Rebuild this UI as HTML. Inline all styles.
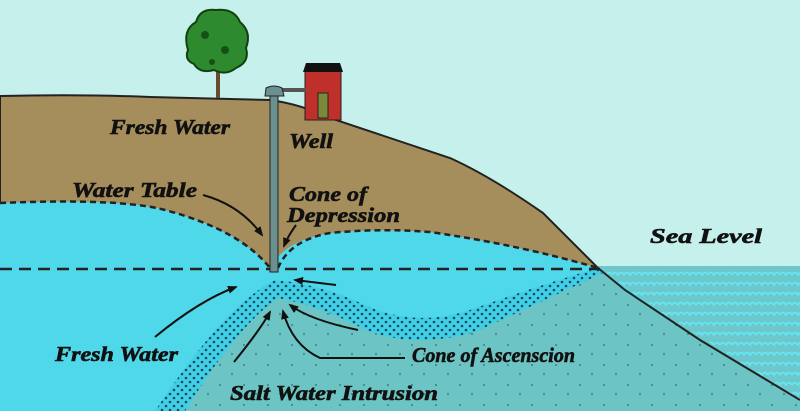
<!DOCTYPE html>
<html><head><meta charset="utf-8"><style>
html,body{margin:0;padding:0;background:#c6f0ec;}
svg{display:block}
text{font-family:"Liberation Serif",serif;font-weight:bold;font-style:italic;fill:#111;stroke:#111;stroke-width:0.6;font-size:21px;}
</style></head><body>
<svg width="800" height="411" viewBox="0 0 800 411" xmlns="http://www.w3.org/2000/svg">
<defs>
<pattern id="dots" width="8" height="8" patternUnits="userSpaceOnUse">
<rect width="8" height="8" fill="#3fd0e8"/>
<circle cx="2" cy="2" r="1.3" fill="#1a4a5a"/><circle cx="6" cy="6" r="1.3" fill="#1a4a5a"/>
</pattern>
<pattern id="sdots" width="24" height="20" patternUnits="userSpaceOnUse">
<rect width="24" height="20" fill="#6cc5c4"/>
<circle cx="4" cy="5" r="0.9" fill="#2a6a70"/><circle cx="16" cy="14" r="0.9" fill="#2a6a70"/>
</pattern>
<pattern id="waves" width="12" height="10" patternUnits="userSpaceOnUse">
<rect width="12" height="10" fill="#6cc8cc"/>
<path d="M0 5 Q3 0 6 5 Q9 0 12 5" fill="none" stroke="#62eaf6" stroke-width="1.6"/>
</pattern>
<marker id="ar" markerWidth="10" markerHeight="8" refX="8" refY="4" orient="auto" markerUnits="userSpaceOnUse"><path d="M0 0 L10 4 L0 8 Z" fill="#111"/></marker>
</defs>
<rect x="598" y="266" width="202" height="145" fill="url(#waves)"/>
<path d="M0 96 Q80 94 150 97 L270 100 Q300 104 330 118 L450 158 Q490 176 543 213 L598 268 L0 268 Z" fill="#a58d5c" stroke="#222" stroke-width="2"/>
<path d="M0 203 Q120 198 165 210 Q240 230 270 268 Q285 240 330 233 Q380 228 430 232 Q520 245 598 268 L800 411 L0 411 Z" fill="#4fd8ea"/>
<path d="M155 411 Q225 305 275 280 Q320 284 365 305 Q415 328 470 310 Q540 285 598 268 L625 290 L800 400 L800 411 Z" fill="url(#dots)"/>
<path d="M185 411 Q238 325 278 298 Q320 306 362 328 Q410 350 475 332 Q545 300 605 272 L625 290 L800 400 L800 411 Z" fill="url(#sdots)"/>
<path d="M598 268 L625 290 L700 340 L800 400" fill="none" stroke="#222" stroke-width="2"/>
<path d="M0 203 Q120 198 165 210 Q240 230 270 268 M278 268 Q290 240 330 233 Q380 228 430 232 Q520 245 598 268" fill="none" stroke="#222" stroke-width="2.5" stroke-dasharray="6,4"/>
<line x1="0" y1="269" x2="600" y2="269" stroke="#222" stroke-width="2.5" stroke-dasharray="12,7"/>
<rect x="216" y="60" width="4" height="38" fill="#6a4a2a"/>
<path d="M188 50 Q182 30 196 22 Q200 8 216 10 Q234 8 240 22 Q252 32 246 48 Q250 62 236 68 Q226 76 214 70 Q200 74 194 64 Q184 60 188 50 Z" fill="#2e8a2e" stroke="#134013" stroke-width="2"/>
<circle cx="205" cy="35" r="4" fill="#165016"/><circle cx="225" cy="50" r="4" fill="#165016"/><circle cx="212" cy="62" r="3" fill="#165016"/>
<rect x="305" y="70" width="36" height="50" fill="#c0302a" stroke="#222"/>
<path d="M303 72 L306 63 L340 63 L343 72 Z" fill="#111"/>
<rect x="318" y="93" width="10" height="25" fill="#7a8a3a" stroke="#222"/>
<rect x="280" y="88" width="26" height="4" fill="#555"/>
<rect x="270" y="92" width="8" height="180" fill="#6a9090" stroke="#222"/>
<path d="M265 96 L266 88 Q274 84 282 88 L284 96 Z" fill="#6a9090" stroke="#222"/>
<g fill="none" stroke="#111" stroke-width="2" marker-end="url(#ar)">
<path d="M203 195 Q240 205 262 235"/>
<path d="M296 225 Q288 236 284 246"/>
<path d="M336 285 L295 280"/>
<path d="M155 337 Q200 300 236 287"/>
<path d="M234 362 Q260 330 270 312"/>
<path d="M405 358 L320 358 Q292 345 283 311"/>
<path d="M358 330 Q310 320 290 305"/>
</g>
<text x="110" y="134" textLength="120" lengthAdjust="spacingAndGlyphs">Fresh Water</text>
<text x="289" y="148" textLength="44" lengthAdjust="spacingAndGlyphs">Well</text>
<text x="72" y="197" textLength="125" lengthAdjust="spacingAndGlyphs">Water Table</text>
<text x="289" y="201" textLength="78" lengthAdjust="spacingAndGlyphs">Cone of</text>
<text x="287" y="222" textLength="113" lengthAdjust="spacingAndGlyphs">Depression</text>
<text x="650" y="243" textLength="112" lengthAdjust="spacingAndGlyphs">Sea Level</text>
<text x="55" y="361" textLength="123" lengthAdjust="spacingAndGlyphs">Fresh Water</text>
<text x="412" y="362" font-size="22" textLength="163" lengthAdjust="spacingAndGlyphs">Cone of Ascenscion</text>
<text x="230" y="400" textLength="208" lengthAdjust="spacingAndGlyphs">Salt Water Intrusion</text>
</svg>
</body></html>
